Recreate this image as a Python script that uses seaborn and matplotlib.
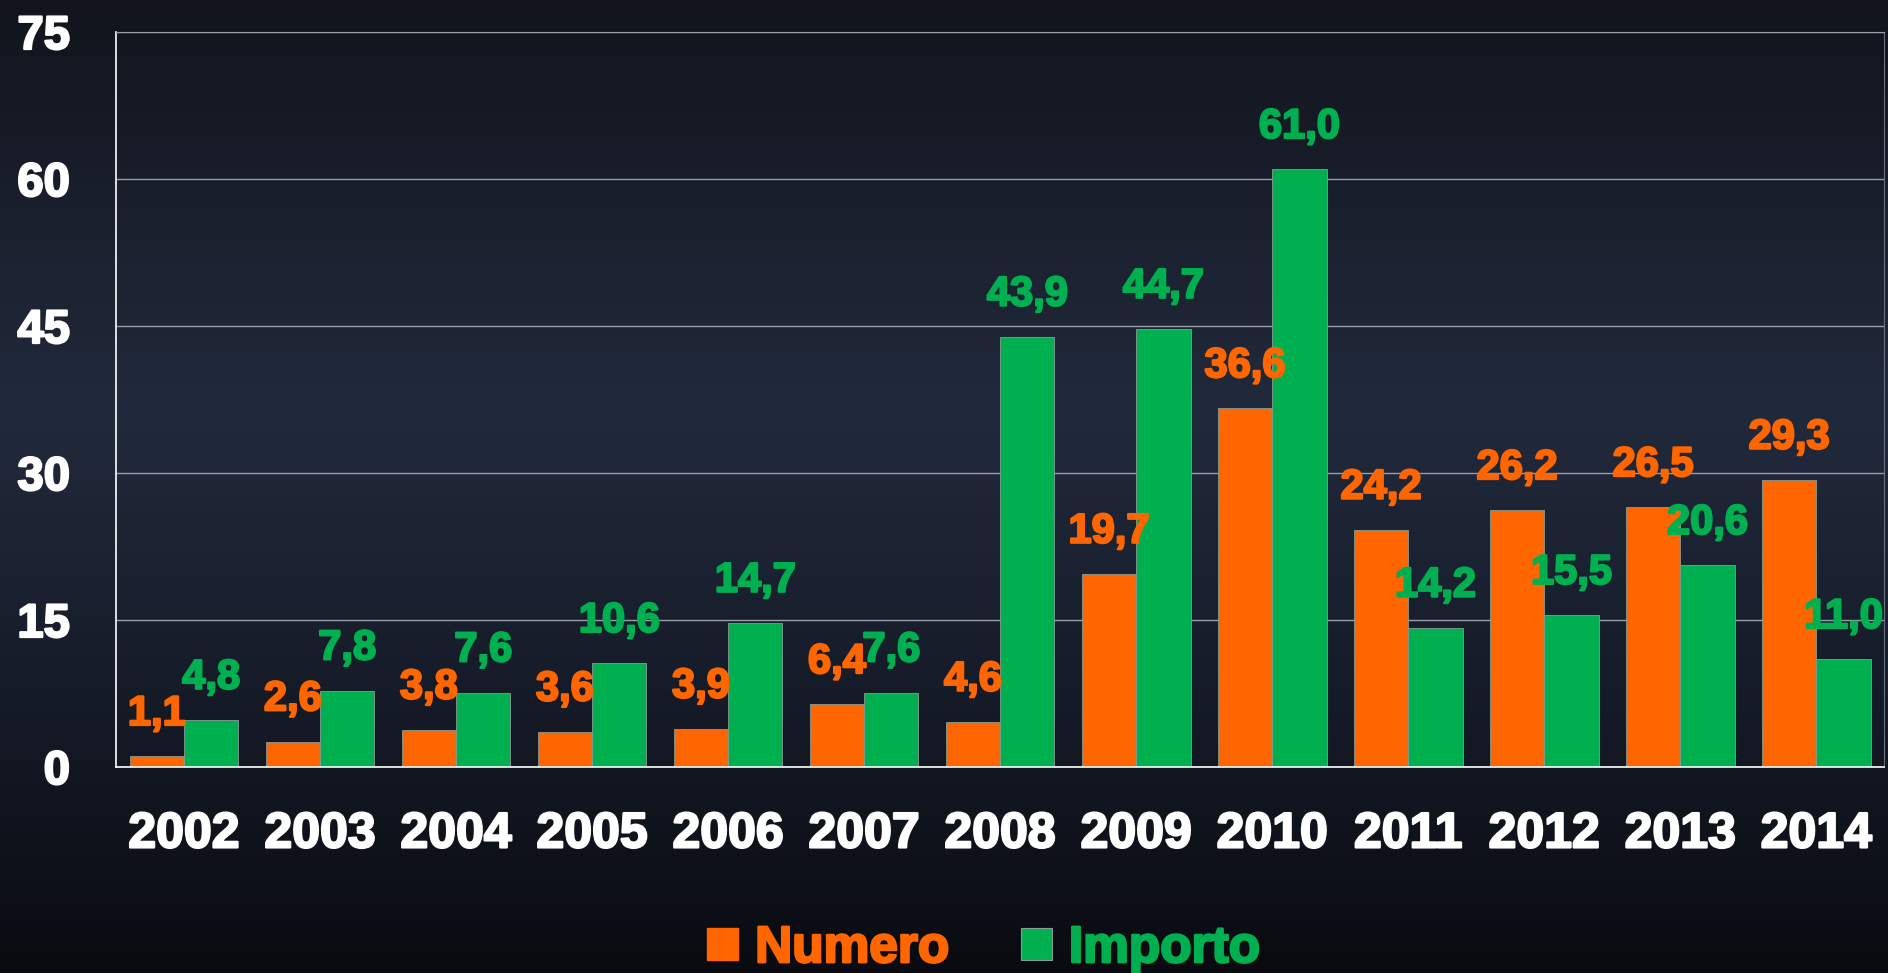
import numpy as np
import pandas as pd
import matplotlib
matplotlib.use("Agg")
import matplotlib.pyplot as plt
import matplotlib.patheffects as pe
import seaborn as sns
from matplotlib.colors import LinearSegmentedColormap
from matplotlib.patches import Rectangle

years = ["2002", "2003", "2004", "2005", "2006", "2007", "2008",
         "2009", "2010", "2011", "2012", "2013", "2014"]
numero = [1.1, 2.6, 3.8, 3.6, 3.9, 6.4, 4.6, 19.7, 36.6, 24.2, 26.2, 26.5, 29.3]
importo = [4.8, 7.8, 7.6, 10.6, 14.7, 7.6, 43.9, 44.7, 61.0, 14.2, 15.5, 20.6, 11.0]
series_names = ["Numero", "Importo"]
series_colors = ["#ff6600", "#00b050"]
y_ticks = [0, 15, 30, 45, 60, 75]

df = pd.DataFrame({
    "anno": years * 2,
    "serie": ["Numero"] * len(years) + ["Importo"] * len(years),
    "valore": numero + importo,
})

sns.set_style("dark")
plt.rcParams["font.family"] = ["Liberation Sans", "DejaVu Sans"]
plt.rcParams["font.weight"] = "bold"

fig = plt.figure(figsize=(18.88, 9.73), dpi=100)

# gradient background
bg = fig.add_axes([0, 0, 1, 1], zorder=-10)
cmap = LinearSegmentedColormap.from_list(
    "bg", [(0.0, "#11141c"), (0.42, "#212a3c"), (0.75, "#141925"), (1.0, "#090b10")])
grad = np.linspace(0, 1, 256).reshape(-1, 1)
bg.imshow(grad, aspect="auto", cmap=cmap, extent=[0, 1, 0, 1])
bg.axis("off")

ax = fig.add_axes([0.0614, 0.2117, 0.9366, 0.7554])
ax.set_facecolor("none")

sns.barplot(data=df, x="anno", y="valore", hue="serie", hue_order=series_names,
            palette=dict(zip(series_names, series_colors)), width=0.8,
            edgecolor="#8a9a92", linewidth=0.6, saturation=1, ax=ax, legend=False)

# value labels
for container, color in zip(ax.containers, series_colors):
    for bar in container:
        h = bar.get_height()
        ax.annotate(f"{h:.1f}".replace(".", ","),
                    (bar.get_x() + bar.get_width() / 2, h),
                    xytext=(0, 16), textcoords="offset points",
                    ha="center", va="bottom", fontsize=30,
                    fontweight="bold", color=color,
                    path_effects=[pe.withStroke(linewidth=1.6, foreground=color)])

ax.set_ylim(0, 75)
ax.set_xlim(-0.5, len(years) - 0.5)
ax.set_yticks(y_ticks)
ax.set_xlabel("")
ax.set_ylabel("")
ax.grid(axis="y", color="#9a9ea6", linewidth=1)
ax.grid(axis="x", visible=False)
ax.set_axisbelow(True)

ax.tick_params(axis="y", colors="#9a9ea6", length=11, width=1, pad=22,
               labelsize=34, labelcolor="white")
ax.tick_params(axis="x", which="major", length=0, pad=32,
               labelsize=36, labelcolor="white")
ax.set_xticks(np.arange(-0.5, len(years), 1), minor=True)
ax.tick_params(axis="x", which="minor", length=12, width=1.2, color="#9a9ea6")
for lab in ax.get_xticklabels() + ax.get_yticklabels():
    lab.set_path_effects([pe.withStroke(linewidth=1.6, foreground="white")])

for s in ["left", "bottom"]:
    ax.spines[s].set_color("white")
    ax.spines[s].set_linewidth(1.2)
ax.spines["right"].set_color("#6b7080")
ax.spines["top"].set_color("#9a9ea6")

handles = [Rectangle((0, 0), 1, 1, facecolor=series_colors[0], edgecolor=series_colors[0]),
           Rectangle((0, 0), 1, 1, facecolor=series_colors[1], edgecolor="#8a9a92", linewidth=0.8)]
leg = fig.legend(handles, series_names, loc="center", bbox_to_anchor=(0.521, 0.025),
                 ncol=2, frameon=False, handlelength=0.6, handleheight=0.6,
                 handletextpad=0.33, columnspacing=1.4,
                 prop={"family": ["Liberation Sans", "DejaVu Sans"],
                       "weight": "bold", "size": 37})
for t, c in zip(leg.get_texts(), series_colors):
    t.set_color(c)
    t.set_path_effects([pe.withStroke(linewidth=1.8, foreground=c)])

fig.savefig("out.png", dpi=100)
